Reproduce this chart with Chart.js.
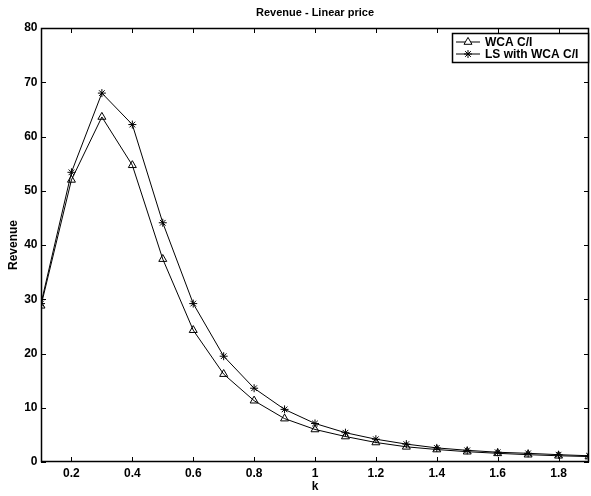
<!DOCTYPE html>
<html>
<head>
<meta charset="utf-8">
<title>Revenue - Linear price</title>
<script src="https://cdn.jsdelivr.net/npm/chart.js"></script>
<style>
  html, body { margin: 0; padding: 0; background: #fff; }
  #wrap { width: 591px; height: 496px; }
</style>
</head>
<body>
<div id="wrap"><canvas id="revenueChart"></canvas></div>
<script>
const kValues = [0.1, 0.2, 0.3, 0.4, 0.5, 0.6, 0.7, 0.8, 0.9, 1.0, 1.1, 1.2, 1.3, 1.4, 1.5, 1.6, 1.7, 1.8, 1.9];
const wcaRevenue = [28.8, 52.0, 63.6, 54.7, 37.4, 24.3, 16.2, 11.3, 8.0, 6.0, 4.7, 3.6, 2.8, 2.3, 1.9, 1.6, 1.35, 1.15, 1.0];
const lsRevenue = [29.2, 53.4, 68.0, 62.2, 44.1, 29.2, 19.5, 13.6, 9.7, 7.1, 5.4, 4.2, 3.3, 2.6, 2.15, 1.8, 1.6, 1.35, 1.15];
const xTickValues = [0.2, 0.4, 0.6, 0.8, 1.0, 1.2, 1.4, 1.6, 1.8];
const yTickValues = [0, 10, 20, 30, 40, 50, 60, 70, 80];

const FONT = '"Liberation Sans", Arial, Helvetica, sans-serif';

const toPoints = ys => kValues.map((k, i) => ({ x: k, y: ys[i] }));

// box around the axes with inward tick marks on all four sides
const axesBox = {
  id: 'axesBox',
  afterDatasetsDraw(chart) {
    const { ctx, chartArea: a, scales: { x, y } } = chart;
    const len = 5;
    ctx.save();
    ctx.strokeStyle = '#000';
    ctx.lineWidth = 1;
    ctx.beginPath();
    xTickValues.forEach(v => {
      const px = Math.round(x.getPixelForValue(v)) + 0.5;
      ctx.moveTo(px, a.bottom); ctx.lineTo(px, a.bottom - len);
      ctx.moveTo(px, a.top); ctx.lineTo(px, a.top + len);
    });
    yTickValues.forEach(v => {
      const py = Math.round(y.getPixelForValue(v)) + 0.5;
      ctx.moveTo(a.left, py); ctx.lineTo(a.left + len, py);
      ctx.moveTo(a.right, py); ctx.lineTo(a.right - len, py);
    });
    ctx.stroke();
    ctx.lineWidth = 1.5;
    ctx.strokeRect(Math.round(a.left) + 0.5, Math.round(a.top) + 0.5,
      Math.round(a.right - a.left) - 1, Math.round(a.bottom - a.top) - 1);
    ctx.restore();
  }
};

// boxed legend in the upper right corner, line sample with marker
const boxLegend = {
  id: 'boxLegend',
  afterDraw(chart) {
    const { ctx, chartArea: a } = chart;
    const left = Math.round(a.right) - 137, top = Math.round(a.top) + 5, w = 136, h = 29;
    ctx.save();
    ctx.fillStyle = '#fff';
    ctx.fillRect(left, top, w, h);
    ctx.strokeStyle = '#000';
    ctx.lineWidth = 1.5;
    ctx.strokeRect(left + 0.5, top + 0.5, w, h);
    ctx.font = 'bold 12px ' + FONT;
    ctx.textBaseline = 'middle';
    ctx.textAlign = 'left';
    chart.data.datasets.forEach((ds, i) => {
      const cy = top + 9 + i * 12;
      ctx.lineWidth = 1;
      ctx.strokeStyle = '#000';
      ctx.beginPath();
      ctx.moveTo(left + 4, cy); ctx.lineTo(left + 28, cy);
      ctx.stroke();
      Chart.helpers.drawPoint(ctx, {
        pointStyle: ds.pointStyle, radius: ds.pointRadius, borderWidth: 1, rotation: 0
      }, left + 16, cy);
      ctx.fillStyle = '#000';
      ctx.fillText(ds.label, left + 33, cy + 0.5);
    });
    ctx.restore();
  }
};

new Chart(document.getElementById('revenueChart'), {
  type: 'line',
  data: {
    datasets: [
      {
        label: 'WCA C/I',
        data: toPoints(wcaRevenue),
        borderColor: '#000',
        borderWidth: 1,
        pointStyle: 'triangle',
        pointRadius: 4.6,
        pointBorderWidth: 1,
        pointBackgroundColor: 'rgba(0,0,0,0)',
        pointBorderColor: '#000',
        tension: 0
      },
      {
        label: 'LS with WCA C/I',
        data: toPoints(lsRevenue),
        borderColor: '#000',
        borderWidth: 1,
        pointStyle: 'star',
        pointRadius: 4,
        pointBorderWidth: 1,
        pointBackgroundColor: 'rgba(0,0,0,0)',
        pointBorderColor: '#000',
        tension: 0
      }
    ]
  },
  options: {
    responsive: true,
    maintainAspectRatio: false,
    animation: false,
    events: [],
    layout: { autoPadding: false, padding: { right: 2 } },
    plugins: {
      legend: { display: false },
      tooltip: { enabled: false },
      title: {
        display: true,
        text: 'Revenue - Linear price',
        color: '#000',
        fullSize: false,
        font: { family: FONT, size: 11, weight: 'bold' },
        padding: { top: 6, bottom: 8.8 }
      }
    },
    scales: {
      x: {
        type: 'linear',
        min: 0.1,
        max: 1.9,
        afterBuildTicks: s => { s.ticks = xTickValues.map(v => ({ value: v })); },
        afterFit: s => { s.height = 34; },
        grid: { display: false, drawTicks: false },
        border: { display: false },
        ticks: {
          color: '#000',
          padding: 4,
          maxRotation: 0,
          autoSkip: false,
          font: { family: FONT, size: 12, weight: 'bold' },
          callback: v => String(Math.round(v * 10) / 10)
        },
        title: {
          display: true,
          text: 'k',
          color: '#000',
          font: { family: FONT, size: 12, weight: 'bold' },
          padding: { top: 0, bottom: 2 }
        }
      },
      y: {
        type: 'linear',
        min: 0,
        max: 80,
        afterBuildTicks: s => { s.ticks = yTickValues.map(v => ({ value: v })); },
        afterFit: s => { s.width = 41; },
        grid: { display: false, drawTicks: false },
        border: { display: false },
        ticks: {
          color: '#000',
          padding: 3.5,
          autoSkip: false,
          font: { family: FONT, size: 12, weight: 'bold' }
        },
        title: {
          display: true,
          text: 'Revenue',
          color: '#000',
          font: { family: FONT, size: 12, weight: 'bold' },
          padding: { top: 6.8, bottom: 0 }
        }
      }
    }
  },
  plugins: [axesBox, boxLegend]
});
</script>
</body>
</html>
